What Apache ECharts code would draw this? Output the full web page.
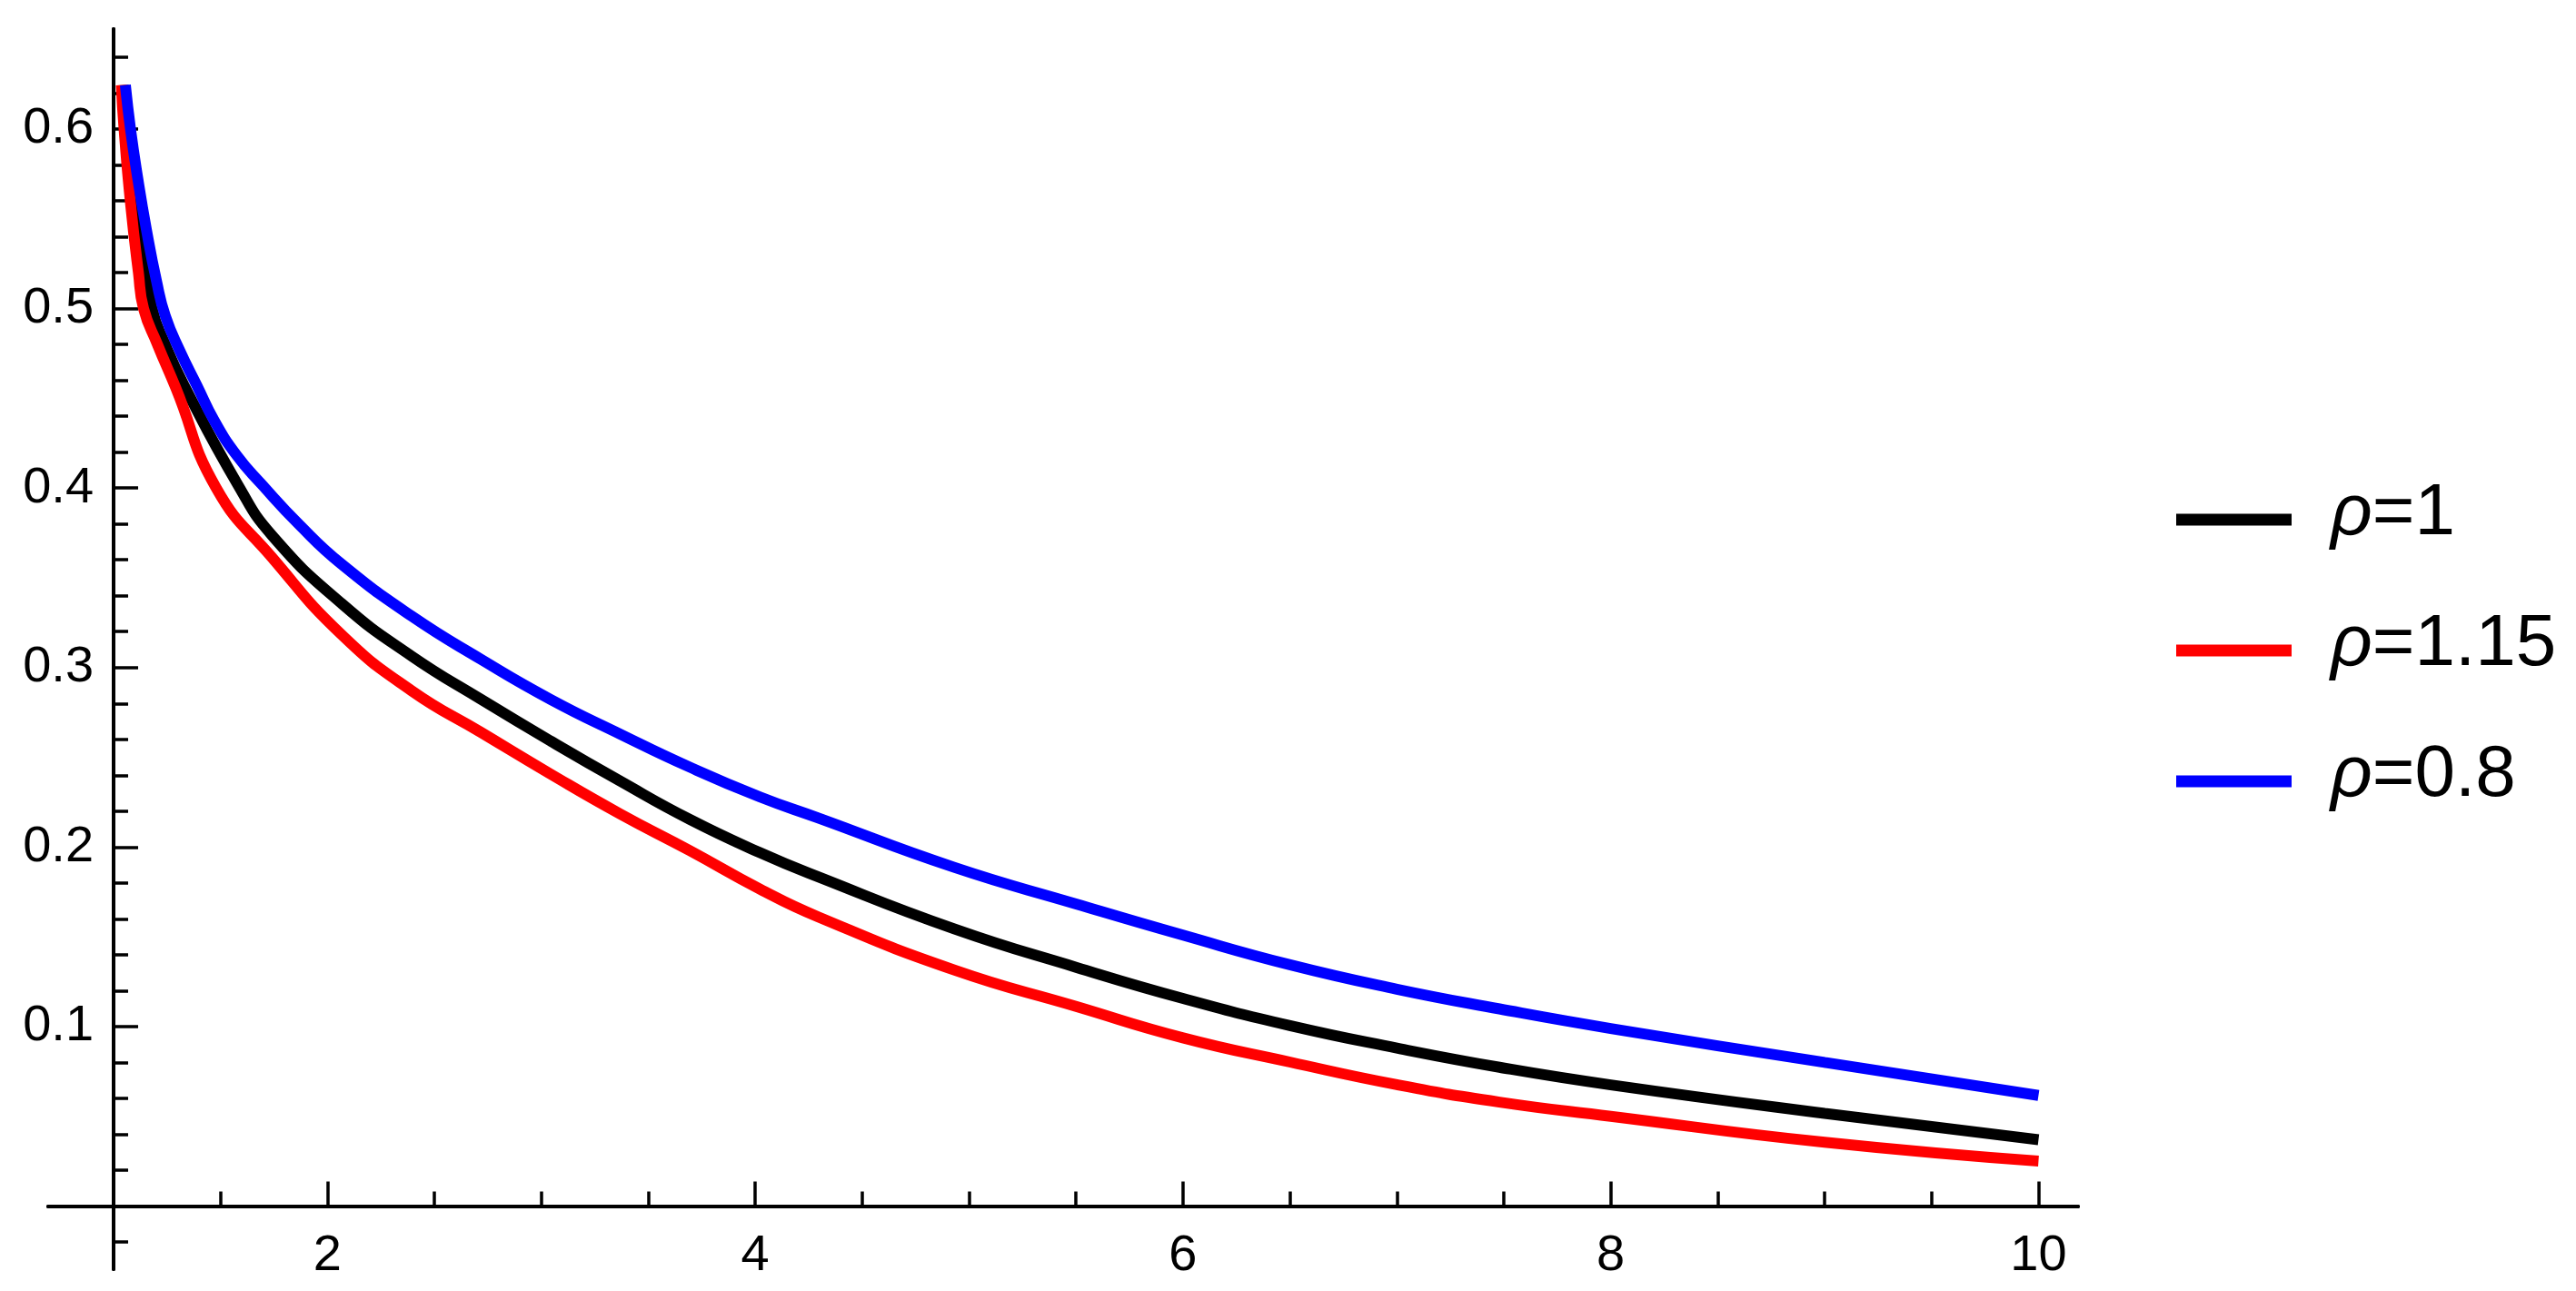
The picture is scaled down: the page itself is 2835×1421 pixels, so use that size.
<!DOCTYPE html>
<html>
<head>
<meta charset="utf-8">
<script src="https://cdn.jsdelivr.net/npm/echarts@6/dist/echarts.min.js"></script>
<style>
html,body{margin:0;padding:0;background:#ffffff;}
#chart{width:2835px;height:1421px;}
</style>
</head>
<body>
<div id="chart"></div>
<script>
// ---- data ----
const seriesNames = ['ρ=1', 'ρ=1.15', 'ρ=0.8'];
const seriesColors = ['#000000', '#ff0000', '#0000ff'];

const rho1 = [
  [1.045,0.6245],[1.060,0.600],[1.100,0.554],[1.180,0.500],[1.241,0.480],[1.330,0.457],
  [1.580,0.402],[1.743,0.3733],[2.068,0.3355],[2.393,0.3064],[2.719,0.2822],[3.044,0.2590],
  [3.369,0.2367],[3.694,0.2154],[4.020,0.1970],[4.292,0.1835],[4.930,0.1544],[5.500,0.1330],
  [6.000,0.1156],[6.500,0.1005],[7.000,0.0880],[7.480,0.0773],[8.000,0.0675],
  [9.000,0.0516],[10.000,0.0369]
];
const rho115 = [
  [1.036,0.6245],[1.049,0.600],[1.078,0.560],[1.116,0.520],[1.140,0.500],[1.205,0.480],
  [1.290,0.456],[1.480,0.400],[1.743,0.3610],[2.068,0.3181],[2.393,0.2871],[2.719,0.2638],
  [3.044,0.2406],[3.369,0.2184],[3.694,0.1980],[4.020,0.1767],[4.292,0.1612],[4.930,0.1315],
  [5.500,0.1112],[6.000,0.0937],[6.500,0.0802],[7.000,0.0676],[7.480,0.0579],
  [8.000,0.0500],[9.000,0.0355],[10.000,0.0250]
];
const rho08 = [
  [1.055,0.6245],[1.079,0.600],[1.112,0.5732],[1.153,0.5442],[1.201,0.5151],[1.242,0.4958],
  [1.310,0.4764],[1.390,0.4570],[1.470,0.4377],[1.575,0.4183],[1.693,0.4020],[1.868,0.3796],
  [2.065,0.3577],[2.393,0.3287],[2.719,0.3045],[3.044,0.2822],[3.369,0.2629],[3.694,0.2445],
  [4.020,0.2280],[4.292,0.2163],[4.930,0.1887],[5.500,0.1683],[6.000,0.1509],
  [6.500,0.1344],[7.000,0.1208],[7.480,0.1098],[8.000,0.0989],[9.000,0.0800],
  [10.000,0.0616]
];

const xMajorTicks = [2, 4, 6, 8, 10];
const xMinorTicks = [1.5, 2.5, 3, 3.5, 4.5, 5, 5.5, 6.5, 7, 7.5, 8.5, 9, 9.5];
const yMajorTicks = [0.1, 0.2, 0.3, 0.4, 0.5, 0.6];
const yMinorTicks = [-0.02, 0.02, 0.04, 0.06, 0.08, 0.12, 0.14, 0.16, 0.18, 0.22, 0.24, 0.26, 0.28,
  0.32, 0.34, 0.36, 0.38, 0.42, 0.44, 0.46, 0.48, 0.52, 0.54, 0.56, 0.58, 0.62, 0.64];
const yAxisCrossX = 1;
const xAxisCrossY = 0;

// ---- layout ----
const xMin = 0.694, xMax = 10.185;
const yMin = -0.0352, yMax = 0.6557;
const gridLeft = 53, gridTop = 32, gridWidth = 2234, gridHeight = 1365;
const yAxisLeft = gridLeft + (yAxisCrossX - xMin) / (xMax - xMin) * gridWidth;
const dataGridHeight = (yMax - xAxisCrossY) / (yMax - yMin) * gridHeight;

const FONT = 'Liberation Sans';
const axisColor = '#000000';

const chart = echarts.init(document.getElementById('chart'), null, {renderer: 'canvas'});

const allData = [rho1, rho115, rho08];

const option = {
  animation: false,
  backgroundColor: '#ffffff',
  grid: [
    {left: gridLeft, top: gridTop, width: gridWidth, height: dataGridHeight,
     containLabel: false, outerBoundsMode: 'none'},
    {left: yAxisLeft, top: gridTop, width: 100, height: gridHeight,
     containLabel: false, outerBoundsMode: 'none'}
  ],
  xAxis: [
    {
      type: 'value', gridIndex: 0, min: xMin, max: xMax, position: 'bottom',
      axisLine: {show: true, onZero: false, lineStyle: {color: axisColor, width: 4}},
      axisTick: {show: true, inside: true, length: 27, customValues: xMajorTicks,
                 lineStyle: {color: axisColor, width: 3.5}},
      axisLabel: {show: true, customValues: xMajorTicks, margin: 27, fontSize: 56,
                  color: '#000', fontFamily: FONT},
      splitLine: {show: false}
    },
    {
      type: 'value', gridIndex: 0, min: xMin, max: xMax, position: 'bottom',
      axisLine: {show: true, onZero: false, lineStyle: {color: axisColor, width: 4}},
      axisTick: {show: true, inside: true, length: 16, customValues: xMinorTicks,
                 lineStyle: {color: axisColor, width: 3.5}},
      axisLabel: {show: false},
      splitLine: {show: false}
    },
    {
      type: 'value', gridIndex: 1, min: 0, max: 1, show: false
    }
  ],
  yAxis: [
    {
      type: 'value', gridIndex: 0, min: xAxisCrossY, max: yMax, show: false,
      splitLine: {show: false}
    },
    {
      type: 'value', gridIndex: 1, min: yMin, max: yMax, position: 'left',
      axisLine: {show: true, onZero: false, lineStyle: {color: axisColor, width: 4}},
      axisTick: {show: true, inside: true, length: 27, customValues: yMajorTicks,
                 lineStyle: {color: axisColor, width: 3.5}},
      axisLabel: {show: true, customValues: yMajorTicks, margin: 22, fontSize: 56,
                  color: '#000', fontFamily: FONT, formatter: v => String(v)},
      splitLine: {show: false}
    },
    {
      type: 'value', gridIndex: 1, min: yMin, max: yMax, position: 'left',
      axisLine: {show: true, onZero: false, lineStyle: {color: axisColor, width: 4}},
      axisTick: {show: true, inside: true, length: 16, customValues: yMinorTicks,
                 lineStyle: {color: axisColor, width: 3.5}},
      axisLabel: {show: false},
      splitLine: {show: false}
    }
  ],
  legend: {
    orient: 'vertical',
    left: 2390,
    top: 517,
    itemWidth: 127,
    itemHeight: 13,
    itemGap: 44,
    icon: 'rect',
    data: seriesNames,
    formatter: name => '{i|ρ}' + name.slice(1),
    textStyle: {
      fontSize: 80, color: '#000', fontFamily: FONT, lineHeight: 88,
      padding: [0, 0, 12, 38],
      rich: {
        i: {fontStyle: 'italic', fontSize: 80, fontFamily: FONT, color: '#000', lineHeight: 88}
      }
    }
  },
  series: allData.map((d, i) => ({
    name: seriesNames[i],
    type: 'line',
    xAxisIndex: 0,
    yAxisIndex: 0,
    data: d,
    color: seriesColors[i],
    showSymbol: false,
    symbol: 'none',
    smooth: 0.5,
    clip: false,
    lineStyle: {color: seriesColors[i], width: 12, cap: 'butt', join: 'round'},
    itemStyle: {color: seriesColors[i]},
    emphasis: {disabled: true}
  }))
};

chart.setOption(option);
</script>
</body>
</html>
